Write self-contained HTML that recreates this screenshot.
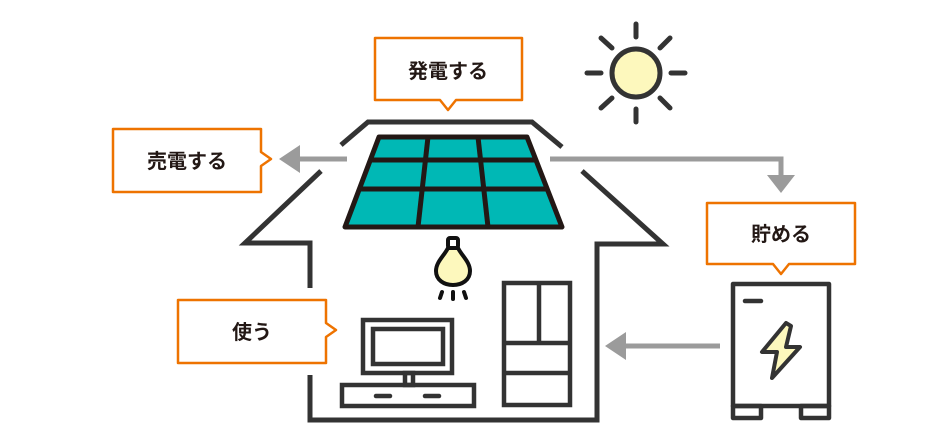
<!DOCTYPE html>
<html><head><meta charset="utf-8"><style>
html,body{margin:0;padding:0;background:#fff;}
svg{display:block}
text{font-family:"Liberation Sans","Noto Sans CJK JP",sans-serif;font-weight:bold;font-size:20px;fill:#231815}
</style></head><body>
<svg width="939" height="437" viewBox="0 0 939 437" xmlns="http://www.w3.org/2000/svg">
<g fill="none" stroke="#333" stroke-width="5" stroke-linejoin="miter">
<polyline points="341,145 368,122 532,122 562,147"/>
<polyline points="321,171 245,243 310,243 310,288"/>
<polyline points="310,375 310,420 597,420 597,244 663,244 582,171"/>
</g>
<!-- solar panel -->
<g stroke="#231815" stroke-width="5" stroke-linejoin="round">
<polygon points="379,137 527,137 562,227 345,227" fill="#00b8b5"/>
<line x1="369" y1="160" x2="536" y2="160"/>
<line x1="358" y1="189" x2="548" y2="189"/>
<line x1="428" y1="137" x2="418" y2="227"/>
<line x1="478" y1="137" x2="488" y2="227"/>
</g>
<!-- bulb -->
<g stroke="#111" stroke-width="4" stroke-linecap="round" stroke-linejoin="round">
<rect x="448" y="238" width="10" height="10" rx="2" fill="#fff"/>
<path d="M448,248 L458,248 C462,256 470,262 470,271 C470,280 462,285 453,285 C444,285 436,280 436,271 C436,262 444,256 448,248 Z" fill="#fdf8bd"/>
<line x1="442" y1="292" x2="440" y2="298"/>
<line x1="453" y1="292" x2="453" y2="299"/>
<line x1="464" y1="292" x2="466" y2="298"/>
</g>
<!-- monitor -->
<g fill="none" stroke="#333" stroke-width="4.5">
<rect x="363" y="320" width="89" height="53"/>
<rect x="373" y="329" width="70" height="35"/>
<rect x="405" y="373" width="8" height="12"/>
<rect x="342" y="385" width="132" height="21"/>
<line x1="376" y1="396" x2="390" y2="396" stroke-linecap="round"/>
<line x1="425" y1="396" x2="439" y2="396" stroke-linecap="round"/>
<!-- fridge -->
<rect x="504" y="283" width="66" height="122"/>
<line x1="539" y1="283" x2="539" y2="343"/>
<line x1="504" y1="343" x2="570" y2="343"/>
<line x1="504" y1="373" x2="570" y2="373"/>
</g>
<!-- sun -->
<g stroke="#333" stroke-width="5" stroke-linecap="round">
<circle cx="636" cy="73" r="24" fill="#fdf8bd"/>
<line x1="636" y1="24" x2="636" y2="37"/>
<line x1="636" y1="109" x2="636" y2="122"/>
<line x1="587" y1="73" x2="601" y2="73"/>
<line x1="671" y1="73" x2="685" y2="73"/>
<line x1="601" y1="38" x2="612" y2="48"/>
<line x1="660" y1="98" x2="670" y2="108"/>
<line x1="670" y1="38" x2="660" y2="48"/>
<line x1="612" y1="98" x2="601" y2="108"/>
</g>
<!-- battery -->
<g fill="none" stroke="#333" stroke-width="4.5" stroke-linejoin="round">
<rect x="733" y="284" width="96" height="122"/>
<rect x="733" y="406" width="28" height="12"/>
<rect x="801" y="406" width="28" height="12"/>
<line x1="745" y1="301" x2="761" y2="301" stroke-linecap="round"/>
<path d="M786,323 L762,352 L777,352 L772,378 L800,347 L786,347 L791,326 Z" fill="#fdf8bd" stroke-width="4"/>
</g>
<!-- arrows -->
<g stroke="#9b9b9b" stroke-width="5" fill="none">
<line x1="347" y1="159" x2="292" y2="159"/>
<polyline points="550,159 781,159 781,178"/>
<line x1="720" y1="346" x2="620" y2="346"/>
</g>
<g fill="#9b9b9b">
<polygon points="279,159 300,145 300,173"/>
<polygon points="767,175 795,175 781,193"/>
<polygon points="605,346 626,332 626,360"/>
</g>
<!-- bubbles -->
<g fill="#fff" stroke="#ee7300" stroke-width="2.5" stroke-linejoin="round">
<path d="M375,38 H522 V100 H456 L448,110 L440,100 H375 Z"/>
<path d="M113,129 H261 V152 L271,159 L261,166 V192 H113 Z"/>
<path d="M707,203 H855 V264 H789 L781,274 L773,264 H707 Z"/>
<path d="M178,300 H326 V323 L336,330 L326,337 V363 H178 Z"/>
</g>
<text x="448" y="78" text-anchor="middle">発電する</text>
<text x="187" y="168" text-anchor="middle">売電する</text>
<text x="781" y="241" text-anchor="middle">貯める</text>
<text x="252" y="339" text-anchor="middle">使う</text>
</svg>
</body></html>
